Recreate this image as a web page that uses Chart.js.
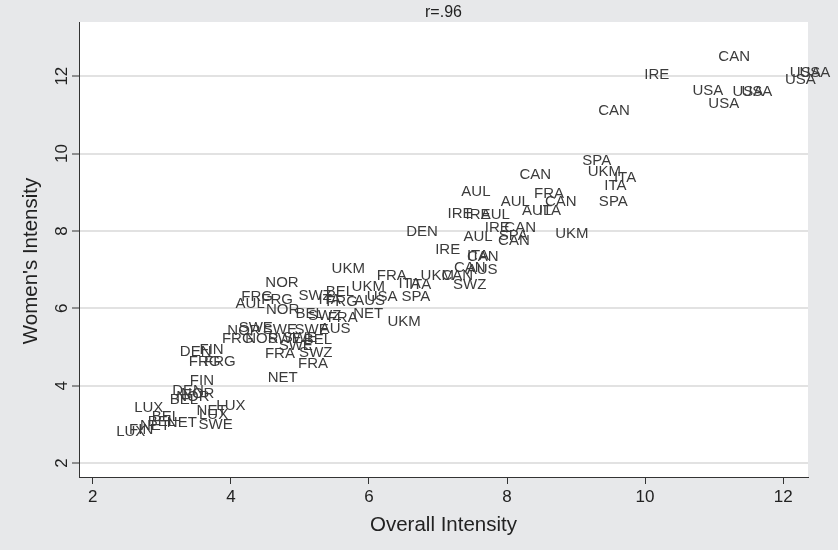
<!DOCTYPE html>
<html>
<head>
<meta charset="utf-8">
<script src="https://cdn.jsdelivr.net/npm/chart.js@4/dist/chart.umd.min.js"></script>
<style>
  html, body { margin: 0; padding: 0; background: #e7e8ea; }
  #wrap { width: 838px; height: 550px; }
</style>
</head>
<body>
<div id="wrap"><canvas id="c" width="838" height="550"></canvas></div>
<script>
// Country labels, overall intensity (x) and women's intensity (y)
const countries = [
  'CAN','IRE','USA','USA','USA','USA','USA','USA','USA','CAN',
  'SPA','UKM','ITA','ITA','SPA','CAN','AUL','FRA','AUL','CAN',
  'AUL','ITA','IRE','IRE','AUL','DEN','IRE','CAN','AUL','SPA',
  'CAN','UKM','IRE','CAN','ITA','CAN','AUS','UKM','CAN','SWZ',
  'FRA','ITA','ITA','SPA','UKM','NOR','FRG','FRG','AUL','NOR',
  'SWZ','BEL','ITA','FRG','AUS','UKM','USA','BEL','SWZ','FRA',
  'NET','UKM','SWE','NOR','SWE','SWE','AUS','FRG','NOR','SWE',
  'SWE','BEL','DEN','FIN','FRG','FRG','FRA','SWZ','SWE','FRA',
  'NET','FIN','DEN','NOR','NOR','BEL','LUX','LUX','NET','LUX',
  'BEL','BEL','NET','SWE','NET','FIN','LUX'
];
const overall = [
  11.29,10.17,10.91,11.14,11.49,11.62,12.32,12.46,12.25,9.55,
  9.30,9.41,9.71,9.57,9.54,8.41,7.55,8.61,8.12,8.78,
  8.43,8.62,7.32,7.58,7.83,6.77,7.86,8.19,7.58,8.09,
  8.10,8.94,7.14,7.65,7.58,7.46,7.64,6.99,7.28,7.46,
  6.33,6.59,6.74,6.68,5.70,4.74,4.38,4.67,4.28,4.75,
  5.22,5.58,5.43,5.61,6.01,5.99,6.19,5.14,5.36,5.62,
  5.99,6.51,4.36,4.19,4.71,5.17,5.51,4.10,4.45,4.78,
  5.00,5.26,3.49,3.72,3.62,3.84,4.71,5.23,4.94,5.19,
  4.75,3.58,3.38,3.52,3.45,3.32,2.81,4.00,3.72,3.75,
  3.06,3.00,3.29,3.78,2.90,2.70,2.55
];
const women = [
  12.49,12.03,11.61,11.28,11.59,11.59,12.08,12.08,11.90,11.10,
  9.80,9.52,9.36,9.16,8.74,9.44,9.00,8.95,8.74,8.74,
  8.51,8.51,8.43,8.41,8.41,7.97,8.07,8.07,7.84,7.87,
  7.74,7.92,7.50,7.33,7.35,7.04,6.99,6.83,6.83,6.60,
  6.83,6.63,6.60,6.29,7.01,6.65,6.29,6.21,6.11,5.95,
  6.32,6.42,6.21,6.16,6.19,6.55,6.29,5.85,5.80,5.75,
  5.85,5.64,5.49,5.41,5.44,5.44,5.46,5.20,5.20,5.20,
  5.23,5.18,4.87,4.92,4.61,4.61,4.82,4.84,5.02,4.56,
  4.20,4.12,3.86,3.78,3.71,3.63,3.42,3.47,3.34,3.24,
  3.19,3.06,3.03,2.98,2.96,2.85,2.80
];
const xTicks = [2, 4, 6, 8, 10, 12];
const yTicks = [2, 4, 6, 8, 10, 12];
const chartTitle = 'r=.96';
const xTitle = 'Overall Intensity';
const yTitle = "Women's Intensity";

const FONT = "'Liberation Sans', Arial, Helvetica, sans-serif";
const points = overall.map((x, i) => ({ x: x, y: women[i], label: countries[i] }));

// Grey page, white plot region
const backdrop = {
  id: 'backdrop',
  beforeDraw(chart) {
    const { ctx, chartArea: a } = chart;
    ctx.save();
    ctx.fillStyle = '#e7e8ea';
    ctx.fillRect(0, 0, chart.width, chart.height);
    ctx.fillStyle = '#ffffff';
    ctx.fillRect(a.left, a.top, a.right - a.left, a.bottom - a.top);
    ctx.restore();
  }
};

// Country codes written at each point, plus heading, axis titles and vertical y tick labels
const labelsPlugin = {
  id: 'labelsPlugin',
  afterDatasetsDraw(chart) {
    const { ctx } = chart;
    const meta = chart.getDatasetMeta(0);
    ctx.save();
    ctx.font = '15px ' + FONT;
    ctx.fillStyle = '#3b3b3b';
    ctx.textAlign = 'center';
    ctx.textBaseline = 'middle';
    meta.data.forEach((el, i) => {
      ctx.fillText(points[i].label, el.x, el.y);
    });
    ctx.restore();
  },
  afterDraw(chart) {
    const { ctx, chartArea: a } = chart;
    const yScale = chart.scales.y;
    const cx = (a.left + a.right) / 2;
    ctx.save();
    ctx.fillStyle = '#222';
    ctx.textAlign = 'center';
    ctx.textBaseline = 'middle';
    ctx.font = '16px ' + FONT;
    ctx.fillText(chartTitle, cx, 13);
    ctx.font = '17px ' + FONT;
    yTicks.forEach(v => {
      const py = yScale.getPixelForValue(v);
      ctx.save();
      ctx.translate(a.left - 17, py);
      ctx.rotate(-Math.PI / 2);
      ctx.fillText(String(v), 0, 0);
      ctx.restore();
    });
    ctx.font = '20.5px ' + FONT;
    ctx.fillText(xTitle, cx, 525);
    ctx.save();
    ctx.translate(31, 261);
    ctx.rotate(-Math.PI / 2);
    ctx.fillText(yTitle, 0, 0);
    ctx.restore();
    ctx.restore();
  }
};

new Chart(document.getElementById('c'), {
  type: 'scatter',
  data: {
    datasets: [{
      data: points,
      pointRadius: 0,
      pointHoverRadius: 0,
      showLine: false
    }]
  },
  options: {
    responsive: false,
    animation: false,
    devicePixelRatio: 1,
    events: [],
    layout: { padding: { top: 22, right: 30, left: 0, bottom: 0 } },
    plugins: { legend: { display: false }, tooltip: { enabled: false }, title: { display: false } },
    scales: {
      x: {
        type: 'linear',
        min: 1.8,
        max: 12.36,
        afterBuildTicks: s => { s.ticks = xTicks.map(v => ({ value: v })); },
        afterFit: s => { s.height = 73; },
        border: { display: true, color: '#333', width: 1 },
        grid: { drawOnChartArea: false, drawTicks: true, tickLength: 7, tickColor: '#333', tickWidth: 1 },
        ticks: { color: '#222', font: { family: FONT, size: 17 }, padding: 3, maxRotation: 0, minRotation: 0 },
        title: { display: false }
      },
      y: {
        type: 'linear',
        min: 1.64,
        max: 13.4,
        afterBuildTicks: s => { s.ticks = yTicks.map(v => ({ value: v })); },
        afterFit: s => { s.width = 79; },
        border: { display: true, color: '#333', width: 1 },
        grid: { color: '#e2e2e2', lineWidth: 2, drawTicks: true, tickLength: 7, tickColor: '#333', tickWidth: 1 },
        ticks: { display: false },
        title: { display: false }
      }
    }
  },
  plugins: [backdrop, labelsPlugin]
});
</script>
</body>
</html>
